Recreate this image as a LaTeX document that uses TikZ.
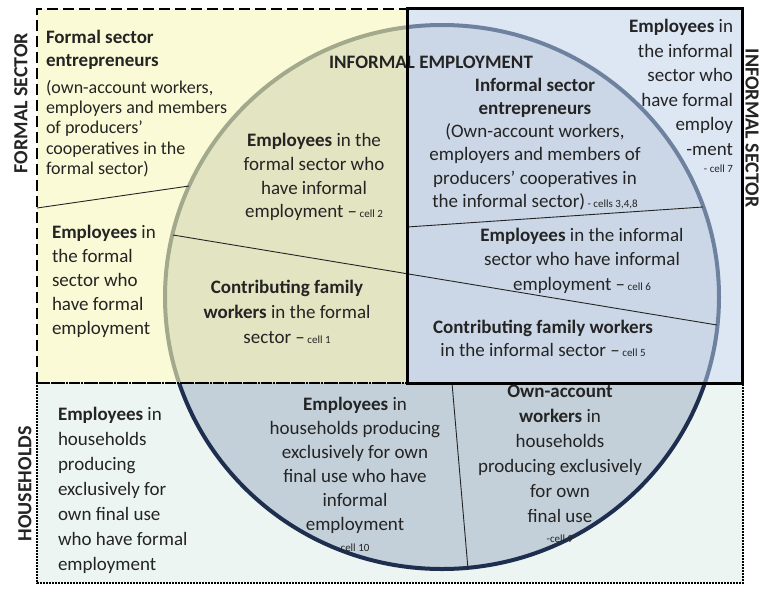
\documentclass[tikz,border=0pt]{standalone}
\usepackage{fontspec}
\setmainfont{Carlito}
\definecolor{ink}{HTML}{242424}
\definecolor{formalbg}{HTML}{FBFAD6}
\definecolor{informalbg}{HTML}{DDE6F3}
\definecolor{househbg}{HTML}{ECF5F2}
\definecolor{formalring}{HTML}{E3E4C2}
\definecolor{informalring}{HTML}{CBD7E6}
\definecolor{househring}{HTML}{C3D0D9}
\definecolor{formaledge}{HTML}{A3A98C}
\definecolor{informaledge}{HTML}{6E82A0}
\definecolor{househedge}{HTML}{1D2E4F}
\newcommand\cellno[1]{{\fontsize{11}{11}\selectfont #1}}
\begin{document}
\begin{tikzpicture}[x=1pt,y=-1pt,
  txt/.style={inner sep=0pt, outer sep=0pt, text=ink, font=\fontsize{19}{24}\selectfont},
  sidelabel/.style={inner sep=0pt, text=ink, font=\bfseries\fontsize{20}{24}\selectfont},
  divider/.style={draw=ink, line width=0.9pt},
  ringedge/.style={line width=4pt},
  formalborder/.style={draw=black, line width=2.5pt, dash pattern=on 11pt off 5pt},
  househborder/.style={draw=black, line width=2.5pt, dash pattern=on 2pt off 1pt},
  informalborder/.style={draw=black, line width=3pt}
]
\useasboundingbox (0,0) rectangle (761,590);

% region corners
\coordinate (fTL) at (37,9);
\coordinate (fBR) at (407,383);
\coordinate (iTL) at (407,8);
\coordinate (iBR) at (742,383);
\coordinate (hTL) at (37,383);
\coordinate (hBR) at (743,583);
\coordinate (ring) at (442,297);

% backgrounds
\fill[formalbg] (fTL) rectangle (fBR);
\fill[informalbg] (iTL) rectangle (iBR);
\fill[househbg] (hTL) rectangle (hBR);

% informal employment ellipse, coloured per region
\begin{scope}
  \clip (fTL) rectangle (fBR);
  \fill[formalring] (ring) ellipse [x radius=277pt, y radius=272pt];
  \draw[ringedge, formaledge] (ring) ellipse [x radius=277pt, y radius=272pt];
\end{scope}
\begin{scope}
  \clip (iTL) rectangle (iBR);
  \fill[informalring] (ring) ellipse [x radius=277pt, y radius=272pt];
  \draw[ringedge, informaledge] (ring) ellipse [x radius=277pt, y radius=272pt];
\end{scope}
\begin{scope}
  \clip (hTL) rectangle (hBR);
  \fill[househring] (ring) ellipse [x radius=277pt, y radius=272pt];
  \draw[ringedge, househedge] (ring) ellipse [x radius=277pt, y radius=272pt];
\end{scope}

% cell dividers
\coordinate (l1a) at (37,208);
\coordinate (l1b) at (189,186);
\coordinate (l2a) at (173,235);
\coordinate (l2b) at (717,325);
\coordinate (l3a) at (407,227);
\coordinate (l3b) at (703,207);
\coordinate (l4a) at (452,383);
\coordinate (l4b) at (468,569);
\draw[divider] (l1a) -- (l1b);
\draw[divider] (l2a) -- (l2b);
\draw[divider] (l3a) -- (l3b);
\draw[divider] (l4a) -- (l4b);

% heading of the ellipse, crossed by the informal sector frame
\node[txt, font=\bfseries\fontsize{19}{24}\selectfont, anchor=base] (lblemp) at (431,68) {INFORMAL EMPLOYMENT};

% borders
\draw[househborder] (407,383) -- (hTL) -- (37,583) -- (743,583) -- (743,383);
\draw[formalborder] (hTL) -- (fTL) -- (407,9);
\draw[formalborder] (hTL) -- (fBR);
\draw[informalborder] (iTL) rectangle (iBR);

% side labels
\node[sidelabel, rotate=90] (lblformal) at (21,103) {FORMAL SECTOR};
\node[sidelabel, rotate=90] (lblhouse) at (25,484) {HOUSEHOLDS};
\node[sidelabel, rotate=-90] (lblinformal) at (752,128) {INFORMAL SECTOR};

% formal sector
\node[txt, font=\fontsize{19}{23}\selectfont, anchor=north west, align=left] (fsent) at (46,29.7)
  {\textbf{Formal sector}\\\textbf{entrepreneurs}};
\node[txt, font=\fontsize{18}{20.3}\selectfont, anchor=north west, align=left] (fsentsub) at (46,80)
  {(own-account workers,\\employers and members\\of producers’\\cooperatives in the\\formal sector)};
\node[txt, font=\fontsize{19}{23.8}\selectfont, anchor=north, align=center] (fsinf) at (314,133.2)
  {\textbf{Employees} in the\\formal sector who\\have informal\\employment –\cellno{ cell 2}};
\node[txt, font=\fontsize{19}{24.2}\selectfont, anchor=north west, align=left] (fsfor) at (52,224.7)
  {\textbf{Employees} in\\the formal\\sector who\\have formal\\employment};
\node[txt, font=\fontsize{19}{25}\selectfont, anchor=north, align=center] (fscfw) at (287,280)
  {\textbf{Contributing family}\\\textbf{workers} in the formal\\sector –\cellno{ cell 1}};

% informal sector
\node[txt, font=\fontsize{19}{23.2}\selectfont, anchor=north, align=center] (isent) at (535,78)
  {\textbf{Informal sector}\\\textbf{entrepreneurs}\\(Own-account workers,\\employers and members of\\producers’ cooperatives in\\the informal sector)\cellno{ - cells 3,4,8}};
\node[txt, font=\fontsize{19}{24.5}\selectfont, anchor=north east, align=right] (isfor) at (733,19.2)
  {\textbf{Employees} in\\the informal\\sector who\\have formal\\employ\\-ment\\[-7.5pt]\cellno{- cell 7}};
\node[txt, font=\fontsize{19}{24.2}\selectfont, anchor=north, align=center] (isinf) at (582,228.4)
  {\textbf{Employees} in the informal\\sector who have informal\\employment –\cellno{ cell 6}};
\node[txt, font=\fontsize{19}{23.4}\selectfont, anchor=north, align=center] (iscfw) at (543,320)
  {\textbf{Contributing family workers}\\in the informal sector –\cellno{ cell 5}};

% households
\node[txt, font=\fontsize{19}{25}\selectfont, anchor=north west, align=left] (hhfor) at (58,406.7)
  {\textbf{Employees} in\\households\\producing\\exclusively for\\own final use\\who have formal\\employment};
\node[txt, font=\fontsize{19}{24}\selectfont, anchor=north, align=center] (hhinf) at (355,396.7)
  {\textbf{Employees} in\\households producing\\exclusively for own\\final use who have\\informal\\employment\\[-3pt]\cellno{cell 10}};
\node[txt, font=\fontsize{19}{25}\selectfont, anchor=north, align=center] (hhown) at (560,384.7)
  {\textbf{Own-account}\\\textbf{workers} in\\households\\producing exclusively\\for own\\final use\\[-5pt]\cellno{-cell 9}};
\end{tikzpicture}
\end{document}
